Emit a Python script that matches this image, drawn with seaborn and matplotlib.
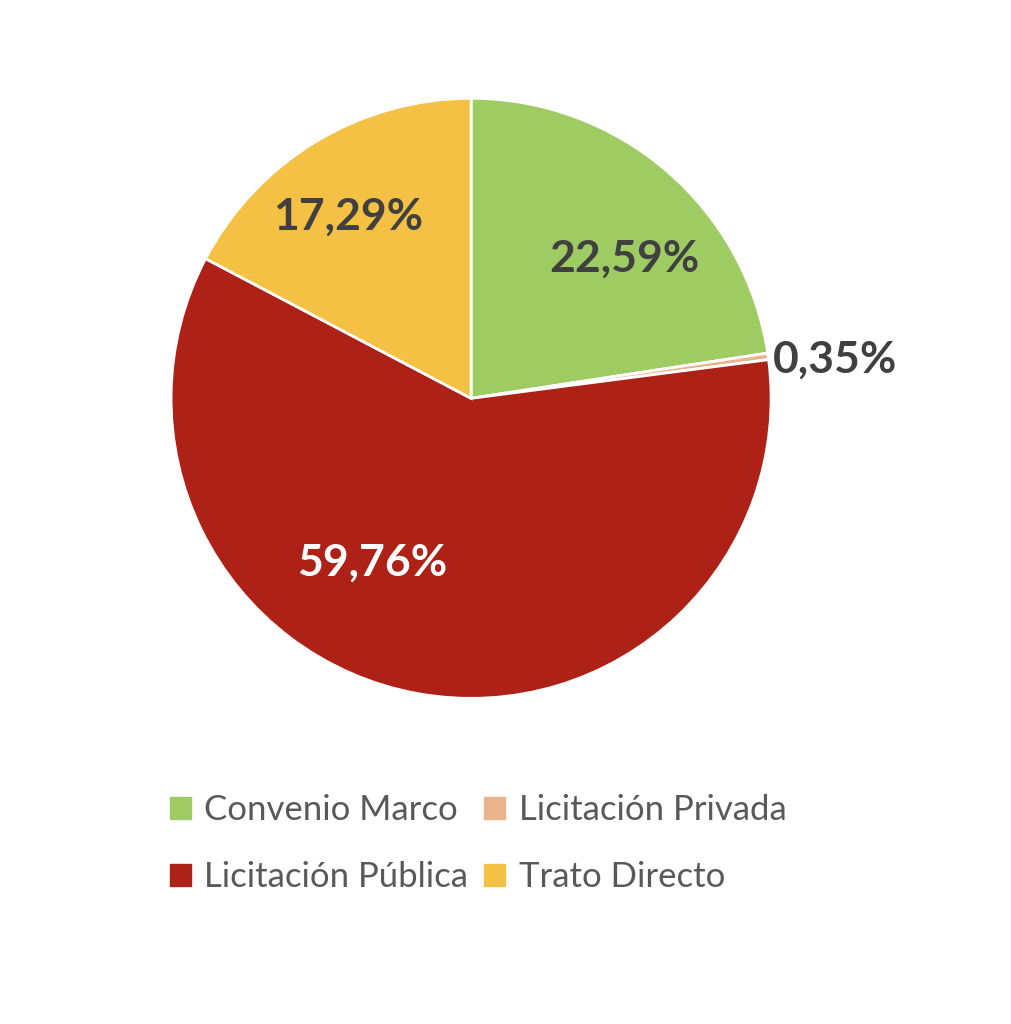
import matplotlib.pyplot as plt
import numpy as np
import seaborn as sns

sns.set_theme(style="white")
plt.rcParams["font.family"] = ["Lato", "DejaVu Sans"]

categories = ["Convenio Marco", "Licitación Privada", "Licitación Pública", "Trato Directo"]
shares = [22.59, 0.35, 59.76, 17.29]
labels = ["22,59%", "0,35%", "59,76%", "17,29%"]
colors = ["#9ECC63", "#EAB48A", "#AD2117", "#F5C144"]
label_colors = ["#404040", "#404040", "#FFFFFF", "#404040"]

fig = plt.figure(figsize=(10.12, 10.24), dpi=100)
ax = fig.add_axes([0.169, 0.318, 0.593, 0.586])

wedges, _ = ax.pie(
    shares, colors=colors, startangle=90, counterclock=False,
    wedgeprops=dict(edgecolor="white", linewidth=2),
)
ax.set_xlim(-1, 1)
ax.set_ylim(-1, 1)
ax.set_aspect("equal")

# label positions: inside for large slices, outside for the tiny one
dists = [0.69, 1.22, 0.64, 0.73]
shifts = [-7, -2, -21, 3]
for w, lab, c, d, s in zip(wedges, labels, label_colors, dists, shifts):
    ang = np.deg2rad((w.theta1 + w.theta2) / 2 + s)
    ax.text(d * np.cos(ang), d * np.sin(ang), lab, ha="center", va="center",
            fontsize=32, fontweight="bold", color=c, clip_on=False)

# legend fills column-wise, so reorder to read row-wise like the original
order = [0, 2, 1, 3]
handles = [plt.Rectangle((0, 0), 1, 1, color=colors[i]) for i in order]
fig.legend(handles, [categories[i] for i in order], loc="center",
           bbox_to_anchor=(0.4725, 0.176), ncol=2, frameon=False, fontsize=25,
           labelcolor="#595959", handlelength=0.6, handleheight=0.6,
           handletextpad=0.4, columnspacing=0.45, labelspacing=1.0)

fig.savefig("out.png", dpi=100)
